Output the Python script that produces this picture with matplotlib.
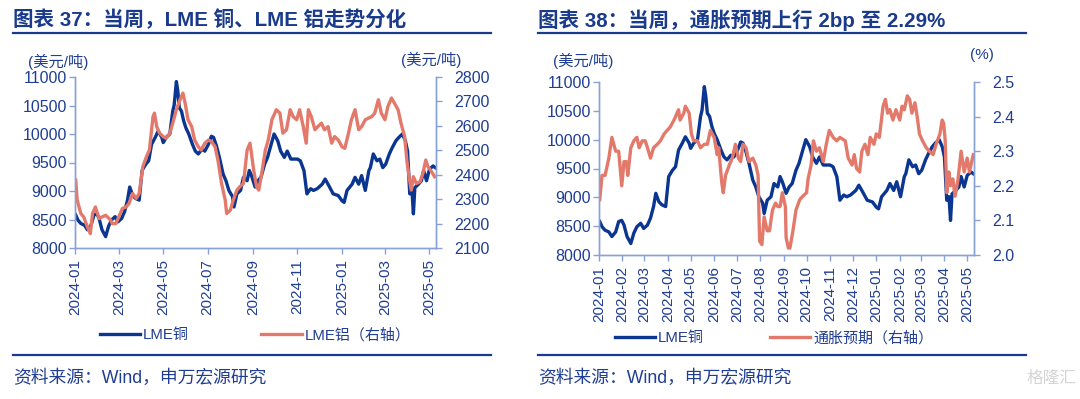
import pandas as pd
import matplotlib
matplotlib.use('Agg')
import matplotlib.pyplot as plt
import matplotlib.dates as mdates
from matplotlib.lines import Line2D

plt.rcParams['font.family'] = ['Liberation Sans', 'Noto Sans CJK SC']

# LME copper (USD/t)
cu_dates = [
    '2024-01-02', '2024-01-05', '2024-01-09', '2024-01-14', '2024-01-18', '2024-01-23', '2024-01-27',
    '2024-01-31', '2024-02-03', '2024-02-07', '2024-02-12', '2024-02-16', '2024-02-20', '2024-02-25',
    '2024-02-29', '2024-03-05', '2024-03-09', '2024-03-13', '2024-03-16', '2024-03-20', '2024-03-24',
    '2024-03-29', '2024-04-02', '2024-04-07', '2024-04-11', '2024-04-15', '2024-04-20', '2024-04-24',
    '2024-04-29', '2024-05-01', '2024-05-05', '2024-05-10', '2024-05-14', '2024-05-16', '2024-05-19',
    '2024-05-21', '2024-05-23', '2024-05-26', '2024-05-29', '2024-06-01', '2024-06-05', '2024-06-10',
    '2024-06-14', '2024-06-18', '2024-06-23', '2024-06-27', '2024-07-02', '2024-07-06', '2024-07-09',
    '2024-07-13', '2024-07-17', '2024-07-22', '2024-07-26', '2024-07-30', '2024-08-04', '2024-08-06',
    '2024-08-10', '2024-08-15', '2024-08-19', '2024-08-24', '2024-08-27', '2024-08-30', '2024-09-04',
    '2024-09-08', '2024-09-12', '2024-09-17', '2024-09-21', '2024-09-26', '2024-09-30', '2024-10-05',
    '2024-10-09', '2024-10-14', '2024-10-18', '2024-10-23', '2024-10-27', '2024-11-01', '2024-11-05',
    '2024-11-10', '2024-11-14', '2024-11-19', '2024-11-23', '2024-11-28', '2024-12-05', '2024-12-09',
    '2024-12-14', '2024-12-20', '2024-12-27', '2025-01-01', '2025-01-04', '2025-01-08', '2025-01-15',
    '2025-01-19', '2025-01-24', '2025-01-28', '2025-02-02', '2025-02-07', '2025-02-09', '2025-02-13',
    '2025-02-18', '2025-02-22', '2025-02-26', '2025-03-02', '2025-03-07', '2025-03-11', '2025-03-16',
    '2025-03-20', '2025-03-25', '2025-03-29', '2025-04-01', '2025-04-04', '2025-04-07', '2025-04-09',
    '2025-04-11', '2025-04-16', '2025-04-20', '2025-04-23', '2025-04-27', '2025-05-01', '2025-05-06',
    '2025-05-09']
cu_vals = [
    8580, 8490, 8430, 8400, 8320, 8400, 8580,
    8600, 8520, 8320, 8200, 8380, 8490, 8550,
    8460, 8520, 8640, 8840, 9070, 8925, 8870,
    8840, 9360, 9470, 9530, 9820, 9940, 10050,
    9940, 9850, 9940, 10000, 10400, 10510, 10920,
    10750, 10460, 10400, 10230, 10110, 10000, 9820,
    9700, 9650, 9730, 9700, 9820, 9960, 9940,
    9790, 9590, 9300, 9180, 9010, 8900, 8720,
    8950, 9010, 9240, 9180, 9360, 9270, 9070,
    9180, 9240, 9470, 9590, 9820, 10000, 9880,
    9700, 9590, 9700, 9560, 9560, 9560, 9530,
    9355, 8950, 9040, 9010, 9040, 9120, 9210,
    9095, 8950, 8920, 8830, 8800, 9010, 9120,
    9240, 9120, 9270, 9010, 9360, 9410, 9650,
    9530, 9560, 9410, 9470, 9650, 9760, 9880,
    9940, 10000, 9880, 9700, 8950, 9010, 8600,
    9060, 9120, 9180, 9360, 9180, 9380, 9440,
    9410]

# LME aluminium (USD/t), right axis of the left chart
al_dates = [
    '2024-01-02', '2024-01-04', '2024-01-09', '2024-01-13', '2024-01-18', '2024-01-22', '2024-01-25',
    '2024-01-29', '2024-02-03', '2024-02-07', '2024-02-12', '2024-02-19', '2024-02-21', '2024-02-26',
    '2024-03-02', '2024-03-06', '2024-03-11', '2024-03-15', '2024-03-20', '2024-03-25', '2024-03-29',
    '2024-04-03', '2024-04-08', '2024-04-12', '2024-04-17', '2024-04-19', '2024-04-22', '2024-04-26',
    '2024-05-01', '2024-05-05', '2024-05-10', '2024-05-14', '2024-05-19', '2024-05-24', '2024-05-28',
    '2024-05-31', '2024-06-04', '2024-06-09', '2024-06-13', '2024-06-18', '2024-06-22', '2024-06-27',
    '2024-07-02', '2024-07-06', '2024-07-11', '2024-07-15', '2024-07-20', '2024-07-25', '2024-07-27',
    '2024-08-01', '2024-08-05', '2024-08-10', '2024-08-14', '2024-08-19', '2024-08-24', '2024-08-28',
    '2024-09-02', '2024-09-06', '2024-09-09', '2024-09-13', '2024-09-18', '2024-09-22', '2024-09-27',
    '2024-10-01', '2024-10-03', '2024-10-08', '2024-10-12', '2024-10-17', '2024-10-22', '2024-10-26',
    '2024-10-31', '2024-11-04', '2024-11-09', '2024-11-13', '2024-11-16', '2024-11-20', '2024-11-25',
    '2024-11-29', '2024-12-04', '2024-12-08', '2024-12-13', '2024-12-18', '2024-12-22', '2024-12-27',
    '2025-01-01', '2025-01-05', '2025-01-10', '2025-01-14', '2025-01-19', '2025-01-24', '2025-01-28',
    '2025-02-02', '2025-02-06', '2025-02-11', '2025-02-15', '2025-02-20', '2025-02-24', '2025-03-01',
    '2025-03-05', '2025-03-10', '2025-03-14', '2025-03-19', '2025-03-23', '2025-03-28', '2025-03-31',
    '2025-04-03', '2025-04-06', '2025-04-09', '2025-04-13', '2025-04-18', '2025-04-22', '2025-04-26',
    '2025-04-29', '2025-05-04', '2025-05-08']
al_vals = [
    2378, 2296, 2241, 2227, 2186, 2159, 2241,
    2268, 2220, 2227, 2234, 2214, 2200, 2200,
    2234, 2262, 2268, 2282, 2323, 2303, 2323,
    2433, 2474, 2501, 2638, 2652, 2597, 2570,
    2556, 2549, 2570, 2611, 2666, 2707, 2734,
    2693, 2625, 2597, 2542, 2515, 2501, 2529,
    2542, 2536, 2515, 2460, 2364, 2296, 2241,
    2255, 2296, 2337, 2351, 2364, 2501, 2529,
    2419, 2351, 2337, 2405, 2501, 2542, 2625,
    2652, 2666, 2652, 2570, 2584, 2666, 2638,
    2625, 2666, 2597, 2529, 2666, 2638, 2584,
    2597, 2611, 2584, 2597, 2529, 2556, 2542,
    2515, 2508, 2570, 2625, 2666, 2584, 2597,
    2625, 2631, 2638, 2652, 2707, 2652, 2625,
    2679, 2714, 2693, 2666, 2611, 2556, 2460,
    2392, 2337, 2392, 2364, 2371, 2405, 2460,
    2433, 2412, 2392]

# inflation expectation (%), right axis of the right chart
ie_dates = [
    '2024-01-02', '2024-01-05', '2024-01-09', '2024-01-14', '2024-01-18', '2024-01-23', '2024-01-27',
    '2024-01-31', '2024-02-03', '2024-02-06', '2024-02-08', '2024-02-12', '2024-02-16', '2024-02-20',
    '2024-02-23', '2024-02-27', '2024-03-02', '2024-03-05', '2024-03-09', '2024-03-13', '2024-03-18',
    '2024-03-22', '2024-03-27', '2024-03-31', '2024-04-04', '2024-04-09', '2024-04-13', '2024-04-15',
    '2024-04-17', '2024-04-22', '2024-04-24', '2024-04-29', '2024-05-02', '2024-05-05', '2024-05-10',
    '2024-05-14', '2024-05-19', '2024-05-23', '2024-05-27', '2024-06-01', '2024-06-05', '2024-06-07',
    '2024-06-11', '2024-06-13', '2024-06-16', '2024-06-21', '2024-06-25', '2024-06-29', '2024-07-03',
    '2024-07-06', '2024-07-09', '2024-07-13', '2024-07-17', '2024-07-22', '2024-07-26', '2024-07-29',
    '2024-07-31', '2024-08-03', '2024-08-06', '2024-08-10', '2024-08-13', '2024-08-17', '2024-08-21',
    '2024-08-24', '2024-08-27', '2024-08-30', '2024-09-03', '2024-09-04', '2024-09-07', '2024-09-09',
    '2024-09-13', '2024-09-17', '2024-09-22', '2024-09-26', '2024-10-01', '2024-10-03', '2024-10-07',
    '2024-10-10', '2024-10-14', '2024-10-18', '2024-10-23', '2024-10-27', '2024-10-31', '2024-11-05',
    '2024-11-10', '2024-11-14', '2024-11-21', '2024-11-25', '2024-11-30', '2024-12-03', '2024-12-06',
    '2024-12-10', '2024-12-13', '2024-12-17', '2024-12-21', '2024-12-24', '2024-12-29', '2025-01-01',
    '2025-01-05', '2025-01-10', '2025-01-13', '2025-01-16', '2025-01-19', '2025-01-23', '2025-01-27',
    '2025-02-01', '2025-02-04', '2025-02-07', '2025-02-11', '2025-02-14', '2025-02-17', '2025-02-21',
    '2025-02-24', '2025-02-27', '2025-03-03', '2025-03-08', '2025-03-12', '2025-03-17', '2025-03-21',
    '2025-03-26', '2025-03-29', '2025-03-31', '2025-04-02', '2025-04-04', '2025-04-07', '2025-04-09',
    '2025-04-12', '2025-04-15', '2025-04-19', '2025-04-23', '2025-04-27', '2025-05-01', '2025-05-04',
    '2025-05-09']
ie_vals = [
    2.16, 2.23, 2.23, 2.28, 2.34, 2.30, 2.30,
    2.20, 2.27, 2.27, 2.23, 2.31, 2.33, 2.34,
    2.31, 2.33, 2.33, 2.31, 2.28, 2.31, 2.32,
    2.33, 2.35, 2.36, 2.37, 2.39, 2.41, 2.42,
    2.39, 2.41, 2.43, 2.41, 2.35, 2.33, 2.33,
    2.31, 2.32, 2.32, 2.36, 2.34, 2.29, 2.31,
    2.21, 2.18, 2.23, 2.26, 2.28, 2.32, 2.28,
    2.27, 2.32, 2.31, 2.27, 2.28, 2.26, 2.23,
    2.04, 2.03, 2.11, 2.07, 2.07, 2.13, 2.15,
    2.14, 2.14, 2.18, 2.14, 2.05, 2.02, 2.02,
    2.07, 2.13, 2.16, 2.17, 2.18, 2.22, 2.26,
    2.33, 2.30, 2.31, 2.27, 2.32, 2.36, 2.34,
    2.33, 2.34, 2.33, 2.28, 2.26, 2.29, 2.25,
    2.24, 2.30, 2.32, 2.29, 2.34, 2.32, 2.35,
    2.34, 2.43, 2.45, 2.41, 2.42, 2.39, 2.42,
    2.39, 2.43, 2.42, 2.46, 2.45, 2.41, 2.44,
    2.40, 2.35, 2.33, 2.31, 2.30, 2.29, 2.32,
    2.35, 2.39, 2.38, 2.33, 2.18, 2.24, 2.20,
    2.22, 2.17, 2.22, 2.30, 2.24, 2.28, 2.24,
    2.29]

title_left = '图表 37：当周，LME 铜、LME 铝走势分化'
title_right = '图表 38：当周，通胀预期上行 2bp 至 2.29%'
source_text = '资料来源：Wind，申万宏源研究'

NAVY = '#0a3590'
SALMON = '#e3796b'
TEXT = '#1f3d92'
SPINE = '#87a2d8'

W, H = 1080, 399


def fx(x):
    return x / W


def fy(y):
    return 1 - y / H


def style_axes(ax):
    ax.spines['top'].set_visible(False)
    for s in ['left', 'right', 'bottom']:
        ax.spines[s].set_color(SPINE)
        ax.spines[s].set_linewidth(1.0)
    ax.tick_params(axis='both', direction='out', length=4, width=1, color=SPINE,
                   labelcolor=TEXT, labelsize=11.5, pad=2)
    ax.tick_params(axis='x', pad=4, labelsize=11)


def header_footer(x0, x1, title):
    fig.text(fx(x0), fy(20), title, fontsize=14.8, fontweight='bold', color='#1a3b8c',
             va='center', ha='left')
    fig.add_artist(Line2D([fx(x0), fx(x1)], [fy(33), fy(33)], lw=1.6, color='#1a3b8c'))
    fig.add_artist(Line2D([fx(x0), fx(x1)], [fy(355), fy(355)], lw=1.6, color='#1a3b8c'))
    fig.text(fx(x0), fy(378), source_text, fontsize=12.8, color=TEXT, va='center', ha='left')


cu_x = pd.to_datetime(cu_dates)
al_x = pd.to_datetime(al_dates)
ie_x = pd.to_datetime(ie_dates)
xmin, xmax = pd.Timestamp('2024-01-01'), pd.Timestamp('2025-05-10')

fig = plt.figure(figsize=(10.8, 3.99), dpi=100)

# ---- left chart: copper vs aluminium
ax1 = fig.add_axes([fx(75), fy(248), fx(436 - 75), (248 - 77) / H])
ax2 = ax1.twinx()
l1, = ax1.plot(cu_x, cu_vals, color=NAVY, lw=2.4)
l2, = ax2.plot(al_x, al_vals, color=SALMON, lw=2.4)
ax1.set_ylim(8000, 11000)
ax1.set_yticks(range(8000, 11001, 500))
ax2.set_ylim(2100, 2800)
ax2.set_yticks(range(2100, 2801, 100))
ax1.set_xlim(xmin, xmax)
ax1.xaxis.set_major_locator(mdates.MonthLocator(bymonth=[1, 3, 5, 7, 9, 11]))
ax1.xaxis.set_major_formatter(mdates.DateFormatter('%Y-%m'))
for ax in (ax1, ax2):
    style_axes(ax)
ax2.tick_params(axis='y', pad=9)
plt.setp(ax1.get_xticklabels(), rotation=90)
fig.text(fx(28), fy(62), '(美元/吨)', fontsize=11, color=TEXT, va='center', ha='left')
fig.text(fx(401), fy(60), '(美元/吨)', fontsize=11, color=TEXT, va='center', ha='left')
fig.legend([l1, l2], ['LME铜', 'LME铝（右轴）'], loc='center', bbox_to_anchor=(fx(255), fy(335)),
           ncol=2, frameon=False, fontsize=10.8, labelcolor=TEXT, handlelength=2.7,
           handletextpad=0.2, columnspacing=4.8)
header_footer(13, 491, title_left)

# ---- right chart: copper vs inflation expectation
ax3 = fig.add_axes([fx(599), fy(255), fx(974 - 599), (255 - 82) / H])
ax4 = ax3.twinx()
l3, = ax3.plot(cu_x, cu_vals, color=NAVY, lw=2.4)
l4, = ax4.plot(ie_x, ie_vals, color=SALMON, lw=2.4)
ax3.set_ylim(8000, 11000)
ax3.set_yticks(range(8000, 11001, 500))
ax4.set_ylim(2.0, 2.5)
ax4.set_yticks([2.0, 2.1, 2.2, 2.3, 2.4, 2.5])
ax4.yaxis.set_major_formatter(matplotlib.ticker.FormatStrFormatter('%.1f'))
ax3.set_xlim(xmin, xmax)
ax3.xaxis.set_major_locator(mdates.MonthLocator())
ax3.xaxis.set_major_formatter(mdates.DateFormatter('%Y-%m'))
for ax in (ax3, ax4):
    style_axes(ax)
ax4.tick_params(axis='y', pad=9)
plt.setp(ax3.get_xticklabels(), rotation=90)
fig.text(fx(553), fy(61), '(美元/吨)', fontsize=11, color=TEXT, va='center', ha='left')
fig.text(fx(970), fy(55), '(%)', fontsize=11, color=TEXT, va='center', ha='left')
fig.legend([l3, l4], ['LME铜', '通胀预期（右轴）'], loc='center', bbox_to_anchor=(fx(774), fy(338)),
           ncol=2, frameon=False, fontsize=10.8, labelcolor=TEXT, handlelength=2.7,
           handletextpad=0.2, columnspacing=4.4)
header_footer(538, 1026, title_right)

fig.text(fx(1076), fy(378), '格隆汇', fontsize=12, color='#d4d4d4', va='center', ha='right')

fig.savefig('out.png', dpi=100)
